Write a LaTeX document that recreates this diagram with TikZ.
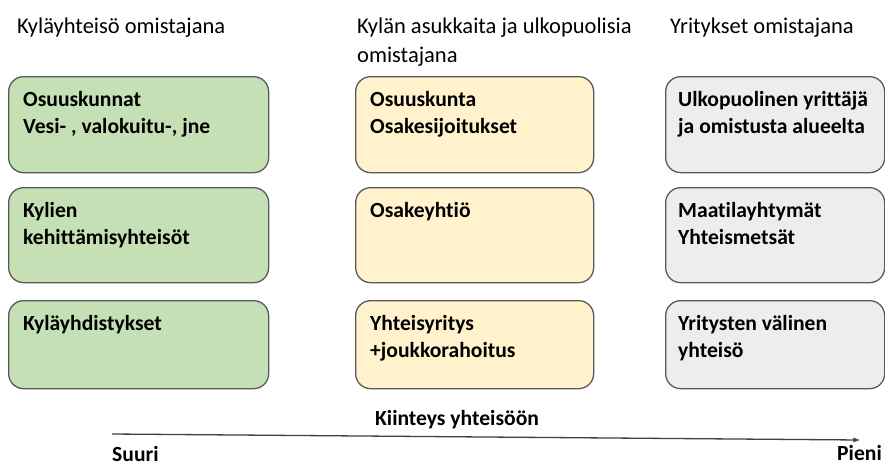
\documentclass[tikz,border=0pt]{standalone}
\usepackage{fontspec}
\setmainfont{Carlito}[Ligatures=NoCommon]
\usetikzlibrary{positioning}
\definecolor{vihrea}{HTML}{C5E0B4}
\definecolor{keltainen}{HTML}{FFF2CC}
\definecolor{harmaa}{HTML}{EDEDED}
\definecolor{reuna}{HTML}{5A5A5A}
\tikzset{
  laatikko/.style={draw=reuna, line width=1.3pt, rounded corners=15pt, anchor=north west, inner sep=0pt},
  sisalto/.style={anchor=north west, inner sep=0pt, align=left, font=\fontsize{21.6}{27}\selectfont\bfseries},
  otsikko/.style={anchor=north west, inner sep=0pt, align=left, font=\fontsize{22.5}{29}\selectfont}
}
\begin{document}
\begin{tikzpicture}[x=1pt,y=-1pt]
    \useasboundingbox (0,0) rectangle (885,466);
    % otsikot
    \node[otsikko] (h1) at (17,18) {Kyläyhteisö omistajana};
    \node[otsikko] (h2) at (357,18) {Kylän asukkaita ja ulkopuolisia\\omistajana};
    \node[otsikko] (h3) at (670,18) {Yritykset omistajana};
    % laatikot
    \foreach \n/\x/\w/\vari in {a/8/260/vihrea, b/355/238/keltainen, c/665/219/harmaa}{
        \node[laatikko, fill=\vari, minimum width=\w pt, minimum height=96pt] (\n1) at (\x,76) {};
        \node[laatikko, fill=\vari, minimum width=\w pt, minimum height=95pt] (\n2) at (\x,187) {};
        \node[laatikko, fill=\vari, minimum width=\w pt, minimum height=88pt] (\n3) at (\x,300) {};
    }
    \node[sisalto] (ta1) at ([shift={(15,15)}]a1.north west) {Osuuskunnat\\Vesi- , valokuitu-, jne};
    \node[sisalto] (ta2) at ([shift={(15,15)}]a2.north west) {Kylien\\kehittämisyhteisöt};
    \node[sisalto] (ta3) at ([shift={(15,15)}]a3.north west) {Kyläyhdistykset};
    \node[sisalto] (tb1) at ([shift={(15,15)}]b1.north west) {Osuuskunta\\Osakesijoitukset};
    \node[sisalto] (tb2) at ([shift={(15,15)}]b2.north west) {Osakeyhtiö};
    \node[sisalto] (tb3) at ([shift={(15,15)}]b3.north west) {Yhteisyritys\\+joukkorahoitus};
    \node[sisalto] (tc1) at ([shift={(13,15)}]c1.north west) {Ulkopuolinen yrittäjä\\ja omistusta alueelta};
    \node[sisalto] (tc2) at ([shift={(13,15)}]c2.north west) {Maatilayhtymät\\Yhteismetsät};
    \node[sisalto] (tc3) at ([shift={(13,15)}]c3.north west) {Yritysten välinen\\yhteisö};
    % akseli
    \coordinate (alku) at (112,434);
    \coordinate (loppu) at (860,440);
    \draw[line width=1.3pt, color=black!75, -latex] (alku) -- (loppu);
    \node[anchor=base, inner sep=0pt, font=\fontsize{21.6}{26}\selectfont\bfseries] (kiinteys) at (457,425) {Kiinteys yhteisöön};
    \node[anchor=base west, inner sep=0pt, font=\fontsize{21.6}{26}\selectfont\bfseries] (suuri) at (112,461) {Suuri};
    \node[anchor=base east, inner sep=0pt, font=\fontsize{21.6}{26}\selectfont\bfseries] (pieni) at (882,460) {Pieni};
\end{tikzpicture}
\end{document}
